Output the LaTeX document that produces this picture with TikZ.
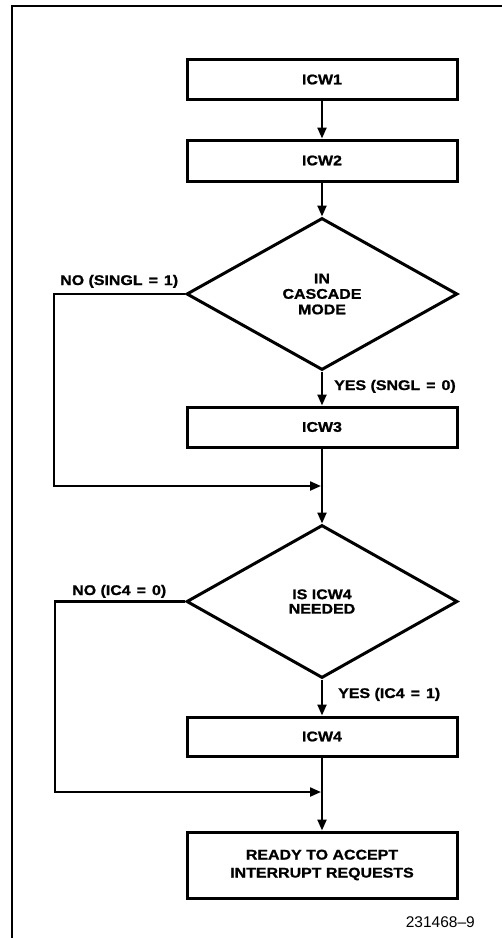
\documentclass[tikz,border=0pt]{standalone}
\usepackage{fontspec}
\setmainfont{Liberation Sans}
\newfontfamily\lab[FakeStretch=1.14, FakeBold=1.2]{Liberation Sans Bold}
\usetikzlibrary{arrows.meta,shapes.geometric}
\newcommand\myeq{\hspace{6pt}=\hspace{6pt}}
\begin{document}
\begin{tikzpicture}[x=1pt,y=-1pt,
  txt/.style={font=\lab\fontsize{14}{15.5}\selectfont},
  box/.style={draw, txt, line width=3pt, minimum width=270pt, minimum height=40pt, inner sep=0pt, align=center},
  dec/.style={draw, diamond, txt, line width=3pt, minimum width=271pt, minimum height=152pt, inner sep=0pt, align=center},
  conn/.style={line width=2.2pt},
  arr/.style={conn, -{Triangle[length=11pt,width=9pt]}},
  lbl/.style={txt, anchor=base west, inner sep=0pt}]
\useasboundingbox (0,0) rectangle (502,938);
% frame
\draw[line width=2pt] (12,940) -- (12,6) -- (504,6);
% nodes
\node[box] (icw1) at (322,79.5) {ICW1};
\node[box, minimum height=41pt] (icw2) at (322,160.5) {ICW2};
\node[dec] (d1) at (322,294) {IN\\CASCADE\\MODE};
\node[box] (icw3) at (322,427) {ICW3};
\coordinate (j1) at (322,486);
\coordinate (l1) at (54,486);
\node[dec, minimum height=153pt, font=\lab\fontsize{14}{14.5}\selectfont] (d2) at (322,601.5) {IS ICW4\\NEEDED};
\node[box, minimum height=39pt] (icw4) at (322,736.5) {ICW4};
\coordinate (j2) at (322,792);
\coordinate (l2) at (55,792);
\node[box, minimum height=66pt, font=\lab\fontsize{14}{18}\selectfont] (ready) at (322,865) {READY TO ACCEPT\\INTERRUPT REQUESTS};
% labels
\node[lbl] (no1) at (60,285) {NO (SINGL\myeq 1)};
\node[lbl] (yes1) at (334,390) {YES (SNGL\myeq 0)};
\node[lbl] (no2) at (72,595) {NO (IC4\myeq 0)};
\node[lbl] (yes2) at (338,698) {YES (IC4\myeq 1)};
\node[anchor=base east, inner sep=0pt, font=\fontsize{15.5}{18}\selectfont] (fig) at (475,927) {231468--9};
% connectors
\draw[arr] (icw1) -- (icw2);
\draw[arr] (icw2) -- (d1);
\draw[arr] (d1) -- (icw3);
\draw[arr] (icw3) -- (d2);
\draw[arr, shorten >=1pt] (d1.west) -| (l1) -- (j1);
\draw[arr] (d2) -- (icw4);
\draw[arr] (icw4) -- (ready);
\draw[arr, shorten >=1pt] (d2.west) -| (l2) -- (j2);
\end{tikzpicture}
\end{document}
